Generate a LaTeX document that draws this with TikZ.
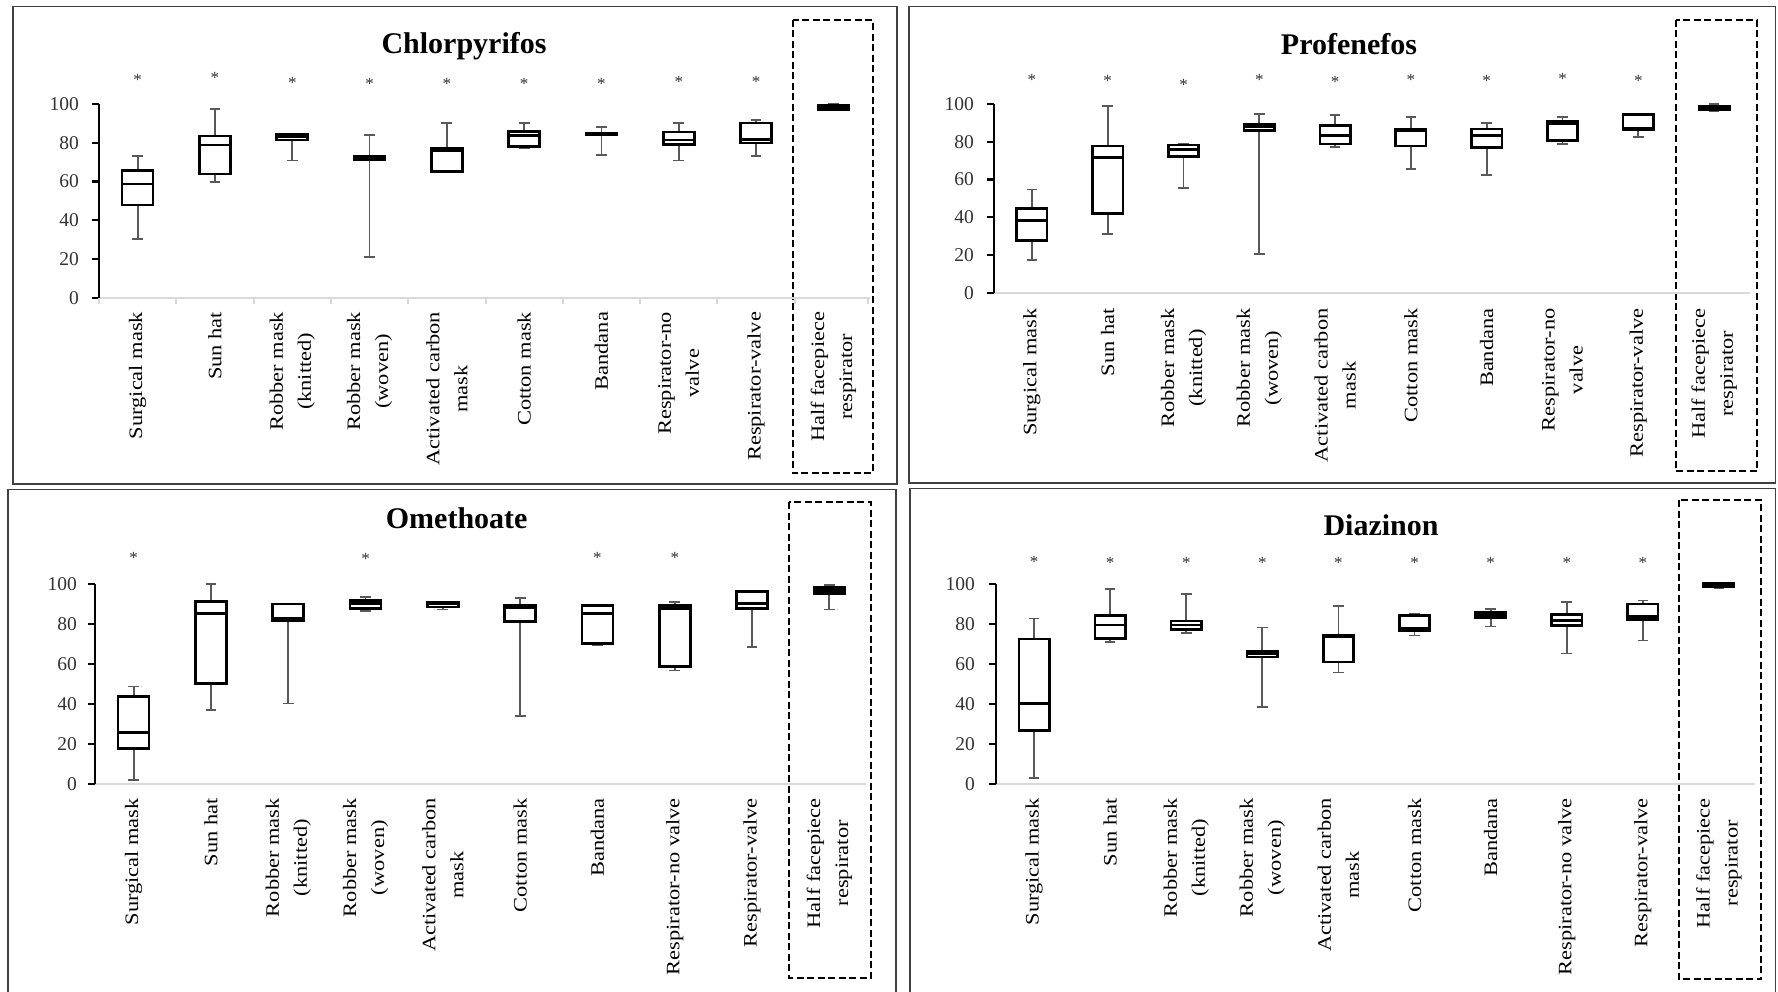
\documentclass[tikz,border=0pt]{standalone}
\usepackage{fontspec}
\setmainfont{Liberation Serif}
\newfontfamily\labfont[FakeStretch=1.18]{Liberation Serif}
\tikzset{
  boxline/.style={line width=2.6pt, draw=black},
  whisk/.style={line width=1.8pt, draw=black!65},
  yaxisline/.style={line width=2.2pt, draw=black},
  xaxisline/.style={line width=2pt, draw=black!15},
  panelframe/.style={line width=1.6pt, draw=black!75},
  hfbox/.style={line width=2.3pt, draw=black, dash pattern=on 7pt off 3.5pt},
  catlab/.style={rotate=90, anchor=east, align=center, inner sep=0pt, font=\labfont\fontsize{19}{28}\selectfont},
  ticklab/.style={anchor=east, inner sep=0pt, text=black!80, font=\fontsize{19.5}{20}\selectfont},
  sig/.style={inner sep=0pt, yshift=-2.5pt, text=black!80, font=\fontsize{17}{17}\selectfont},
  ttl/.style={anchor=base, inner sep=0pt, font=\fontsize{30}{34}\selectfont\bfseries},
}
% #1 centre, #2 lower whisker, #3 Q1, #4 median, #5 Q3, #6 upper whisker
\newcommand{\bx}[6]{%
  \draw[whisk] (#1,#2) -- (#1,#3) (#1,#5) -- (#1,#6)
    ({#1-0.07},#2) -- ({#1+0.07},#2) ({#1-0.07},#6) -- ({#1+0.07},#6);
  \draw[boxline] ({#1-0.2},#3) rectangle ({#1+0.2},#5);
  \draw[boxline] ({#1-0.2},#4) -- ({#1+0.2},#4);
}
\newcommand{\yaxis}[2]{% #1 prefix, #2 label offset
  \draw[xaxisline] (0,0) -- (9.97,0);
  \draw[yaxisline] (0,0) -- (0,100);
  \foreach \v in {0,20,...,100}{
    \draw[yaxisline] (0,\v) -- ++(-7pt,0);
    \node[ticklab, xshift=#2] (#1t\v) at (0,\v) {\v};
  }
}
\begin{document}
\begin{tikzpicture}[x=1pt,y=-1pt]
\useasboundingbox (0,0) rectangle (1778,992);
\fill[white] (0,0) rectangle (1778,992);
\clip (0,0) rectangle (1778,992);

% ---------------- Top left: Chlorpyrifos
\draw[panelframe] (12.7,6.7) rectangle (896.7,484);
\draw[hfbox] (792.7,20) rectangle (872.7,473.3);
\node[ttl] (tltitle) at (464,53.3) {Chlorpyrifos};
\begin{scope}[shift={(99pt,-297.7pt)}, x=77.3pt, y=1.937pt]
  \yaxis{tl}{-20pt}
  \foreach \k in {0,...,9} \draw[xaxisline] (\k,0) -- ++(0,-6pt);
  \draw[xaxisline] (9.95,0) -- ++(0,-6pt);
  \bx{0.5}{30.2}{47.9}{58.7}{65.7}{73.1}
  \bx{1.5}{59.7}{63.8}{78.9}{83.5}{97.4}
  \bx{2.5}{70.8}{81.5}{83.3}{84.5}{84.8}
  \bx{3.5}{20.9}{71}{72}{73}{84}
  \bx{4.5}{65}{65}{76}{77.2}{90.2}
  \bx{5.5}{77}{78.2}{83.7}{85.8}{90.2}
  \bx{6.5}{73.8}{83.9}{84.5}{85.1}{88}
  \bx{7.5}{70.8}{79.2}{81.5}{85.6}{90.2}
  \bx{8.5}{73.1}{79.8}{81.8}{90.2}{91.8}
  \bx{9.5}{97.1}{97.3}{98.2}{99.2}{100}
  \foreach \i/\v in {0/113.8,1/114.5,2/112.4,3/111.5,4/111.5,5/111.5,6/111.5,7/112.8,8/112.8}
    \node[sig] (tls\i) at (\i+0.5,\v) {*};
  \foreach \t [count=\i from 0] in {Surgical mask, Sun hat, {Robber mask\\(knitted)}, {Robber mask\\(woven)}, {Activated carbon\\mask}, Cotton mask, Bandana, {Respirator-no\\valve}, Respirator-valve, {Half facepiece\\respirator}}
    \node[catlab] (tll\i) at (\i+0.5,-7.23) {\t};
\end{scope}

% ---------------- Top right: Profenefos
\draw[panelframe] (909,6.7) rectangle (1775.5,482.7);
\draw[hfbox] (1675.7,20) rectangle (1757,471);
\node[ttl] (trtitle) at (1349,55) {Profenefos};
\begin{scope}[shift={(994pt,-292.7pt)}, x=75.8pt, y=1.887pt]
  \yaxis{tr}{-20pt}
  \bx{0.5}{17.5}{27.7}{38.4}{44.6}{54.7}
  \bx{1.5}{31}{42}{71.8}{77.8}{98.8}
  \bx{2.5}{55.6}{72.3}{75.8}{78.3}{79}
  \bx{3.5}{20.3}{86}{88.2}{89.2}{94.7}
  \bx{4.5}{77}{78.8}{83.4}{88.5}{94.2}
  \bx{5.5}{65.6}{77.8}{86}{86.8}{93.3}
  \bx{6.5}{62.3}{77}{83.4}{86.8}{90.1}
  \bx{7.5}{78.7}{80.6}{89.6}{90.8}{93}
  \bx{8.5}{82.7}{86.6}{87.3}{94.4}{94.6}
  \bx{9.5}{96.5}{97.2}{98}{99}{100}
  \foreach \i/\v in {0/114.1,1/113.4,2/111.6,3/114.1,4/112.9,5/114.1,6/113.4,7/114.8,8/113.4}
    \node[sig] (trs\i) at (\i+0.5,\v) {*};
  \foreach \t [count=\i from 0] in {Surgical mask, Sun hat, {Robber mask\\(knitted)}, {Robber mask\\(woven)}, {Activated carbon\\mask}, Cotton mask, Bandana, {Respirator-no\\valve}, Respirator-valve, {Half facepiece\\respirator}}
    \node[catlab] (trl\i) at (\i+0.5,-8.27) {\t};
\end{scope}

% ---------------- Bottom left: Omethoate
\draw[panelframe] (8,489.3) rectangle (896,1000);
\draw[hfbox] (789.3,502.3) rectangle (870.7,978);
\node[ttl] (bltitle) at (456.7,528.3) {Omethoate};
\begin{scope}[shift={(95pt,-784pt)}, x=77.3pt, y=2pt]
  \yaxis{bl}{-18pt}
  \bx{0.5}{2}{17.8}{25.7}{43.8}{48.8}
  \bx{1.5}{37.2}{50.3}{85.3}{91.2}{100}
  \bx{2.5}{40.3}{81.8}{83}{90}{90.3}
  \bx{3.5}{86.7}{87.8}{90.3}{91.7}{93.7}
  \bx{4.5}{87.3}{88.5}{90}{91}{91.2}
  \bx{5.5}{34}{81.3}{88.3}{89.2}{93}
  \bx{6.5}{69.3}{70.3}{85.3}{89.2}{89.2}
  \bx{7.5}{56.8}{58.7}{87.8}{89.2}{91}
  \bx{8.5}{68.5}{87.7}{90.3}{96.2}{96.8}
  \bx{9.5}{87.3}{95.3}{96.8}{98.2}{99.5}
  \foreach \i/\v in {0/114.5,3/114,6/114.5,7/114.5}
    \node[sig] (bls\i) at (\i+0.5,\v) {*};
  \foreach \t [count=\i from 0] in {Surgical mask, Sun hat, {Robber mask\\(knitted)}, {Robber mask\\(woven)}, {Activated carbon\\mask}, Cotton mask, Bandana, Respirator-no valve, Respirator-valve, {Half facepiece\\respirator}}
    \node[catlab] (bll\i) at (\i+0.5,-7) {\t};
\end{scope}

% ---------------- Bottom right: Diazinon
\draw[panelframe] (910,488.3) rectangle (1775.5,1000);
\draw[hfbox] (1679,500) rectangle (1761,979);
\node[ttl] (brtitle) at (1381,535) {Diazinon};
\begin{scope}[shift={(996pt,-784pt)}, x=76.1pt, y=2pt]
  \yaxis{br}{-21pt}
  \bx{0.5}{3.2}{26.7}{40.3}{72.5}{82.8}
  \bx{1.5}{71.2}{72.8}{79.5}{84.2}{97.7}
  \bx{2.5}{75.7}{77.3}{79.5}{81.5}{95.2}
  \bx{3.5}{38.7}{63.5}{65}{66.2}{78.3}
  \bx{4.5}{55.8}{61}{73.7}{74.5}{89.2}
  \bx{5.5}{74.3}{76.7}{77.7}{84.2}{85}
  \bx{6.5}{78.8}{83.3}{84.8}{86}{87.5}
  \bx{7.5}{65.3}{79.3}{81.8}{84.8}{91.2}
  \bx{8.5}{71.8}{82.3}{83.7}{90}{91.8}
  \bx{9.5}{98}{98.5}{99.3}{100.3}{100.3}
  \foreach \i/\v in {0/112.5,1/112,2/112,3/112,4/112,5/112,6/112,7/112,8/112}
    \node[sig] (brs\i) at (\i+0.5,\v) {*};
  \foreach \t [count=\i from 0] in {Surgical mask, Sun hat, {Robber mask\\(knitted)}, {Robber mask\\(woven)}, {Activated carbon\\mask}, Cotton mask, Bandana, Respirator-no valve, Respirator-valve, {Half facepiece\\respirator}}
    \node[catlab] (brl\i) at (\i+0.5,-7) {\t};
\end{scope}
\end{tikzpicture}
\end{document}
